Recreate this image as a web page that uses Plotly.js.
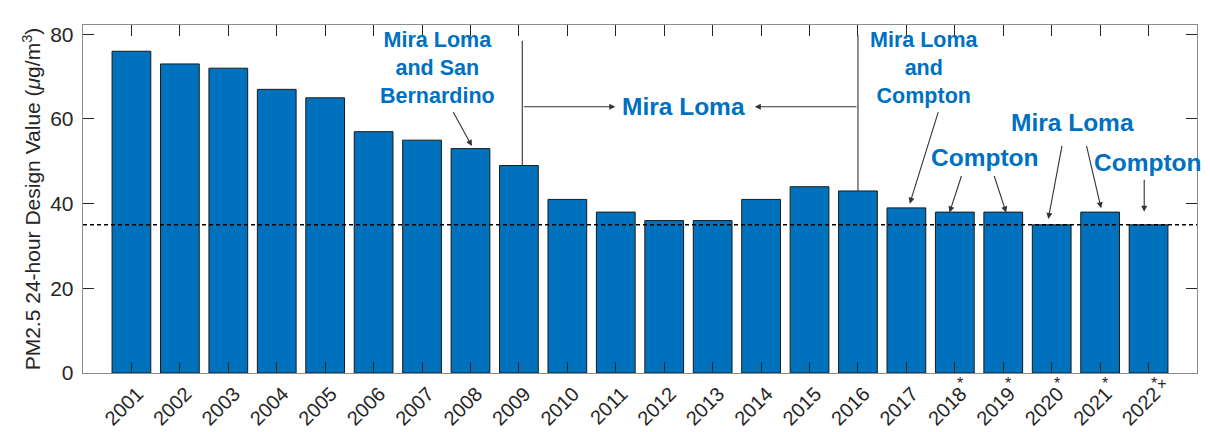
<!DOCTYPE html>
<html>
<head>
<meta charset="utf-8">
<script src="https://cdn.plot.ly/plotly-3.0.1.min.js"></script>
<style>html,body{margin:0;padding:0;background:#fff;}#chart{width:1210px;height:432px;}</style>
</head>
<body>
<div id="chart"></div>
<script>
const years = [2001,2002,2003,2004,2005,2006,2007,2008,2009,2010,2011,2012,2013,2014,2015,2016,2017,2018,2019,2020,2021,2022];
const designValues = [76,73,72,67,65,57,55,53,49,41,38,36,36,41,44,43,39,38,38,35,38,35];
const footnotes = ['','','','','','','','','','','','','','','','','','*','*','*','*','*+'];
const standard = 35;
const yTicks = [0,20,40,60,80];

const blue = '#0072BD';
const textBlue = '#0070C0';
const arrowColor = '#333333';
const font = 'Liberation Sans, Arial, Helvetica, sans-serif';

const trace = {
  type: 'bar',
  x: years,
  y: designValues,
  width: 0.8,
  marker: {color: blue, line: {color: '#1a1a1a', width: 1}},
  hoverinfo: 'x+y'
};

function arrow(hx, hy, tx, ty) {
  return {x: hx, y: hy, ax: tx, ay: ty, xref: 'x', yref: 'y', axref: 'x', ayref: 'y',
    text: ' ', showarrow: true, arrowhead: 2, arrowsize: 1.1, arrowwidth: 1.1, arrowcolor: arrowColor,
    font: {size: 1}};
}
function label(x, y, text, size) {
  return {x: x, y: y, xref: 'x', yref: 'y', text: text, showarrow: false,
    font: {family: font, size: size, color: textBlue, weight: 'bold'}, align: 'center'};
}

const annotations = [
  label(2007.32, 72.1, '<b>Mira Loma<br>and San<br>Bernardino</b>', 21.5),
  label(2012.39, 63, '<b>Mira Loma</b>', 24.5),
  label(2017.38, 72.1, '<b>Mira Loma<br>and<br>Compton</b>', 21.5),
  label(2018.63, 51.0, '<b>Compton</b>', 24.5),
  label(2020.43, 59.1, '<b>Mira Loma</b>', 24.5),
  label(2021.98, 49.7, '<b>Compton</b>', 24.5),
  arrow(2008.03, 53.6, 2007.62, 62.1),
  arrow(2010.99, 62.9, 2009.07, 62.9),
  arrow(2013.87, 62.9, 2016.0, 62.9),
  arrow(2017.07, 40.0, 2017.67, 62.1),
  arrow(2017.89, 37.9, 2018.15, 47.0),
  arrow(2019.06, 37.9, 2018.80, 47.0),
  arrow(2019.93, 36.4, 2020.22, 54.1),
  arrow(2021.02, 38.9, 2020.71, 54.1),
  arrow(2021.91, 38.1, 2021.91, 46.1)
];
years.forEach((yr, i) => {
  if (footnotes[i]) {
    annotations.push({x: yr, y: 0, xref: 'x', yref: 'paper', xanchor: 'left', yanchor: 'top',
      xshift: 0, yshift: 0, text: footnotes[i], showarrow: false,
      font: {family: font, size: 16, color: '#262626'}});
  }
});

const shapes = [
  {type: 'line', xref: 'paper', yref: 'y', x0: 0, x1: 1, y0: standard, y1: standard,
   line: {color: '#000', width: 1.5, dash: '4px,3px'}},
  {type: 'line', xref: 'x', yref: 'y', x0: 2009.07, x1: 2009.07, y0: 78.5, y1: 49,
   line: {color: arrowColor, width: 1.1}},
  {type: 'line', xref: 'x', yref: 'y', x0: 2016.0, x1: 2016.0, y0: 79.8, y1: 43,
   line: {color: arrowColor, width: 1.1}}
];

const layout = {
  width: 1210, height: 432,
  margin: {l: 83, r: 13, t: 25, b: 59},
  paper_bgcolor: '#fff', plot_bgcolor: '#fff',
  showlegend: false,
  font: {family: font, color: '#262626'},
  xaxis: {
    range: [2000, 2023], tickvals: years, ticktext: years.map(String), tickangle: -45,
    ticks: 'inside', ticklen: 11, tickwidth: 1, tickcolor: '#262626',
    showline: true, mirror: 'ticks', linecolor: '#8c8c8c', linewidth: 1.3,
    showgrid: false, zeroline: false,
    ticklabelshift: 6, ticklabelstandoff: 0,
    tickfont: {family: font, size: 20, color: '#262626'}
  },
  yaxis: {
    range: [0, 82.2], tickvals: yTicks,
    ticks: 'inside', ticklen: 11, tickwidth: 1, tickcolor: '#262626',
    showline: true, mirror: 'ticks', linecolor: '#8c8c8c', linewidth: 1.3,
    showgrid: false, zeroline: false,
    tickfont: {family: font, size: 21, color: '#262626'},
    ticklabelstandoff: 4,
    title: {text: 'PM2.5 24-hour Design Value (<i>μ</i>g/m<sup>3</sup>)', font: {family: font, size: 21, color: '#262626'}, standoff: 3}
  },
  annotations: annotations,
  shapes: shapes
};

Plotly.newPlot('chart', [trace], layout, {displayModeBar: false, staticPlot: true});
</script>
</body>
</html>
